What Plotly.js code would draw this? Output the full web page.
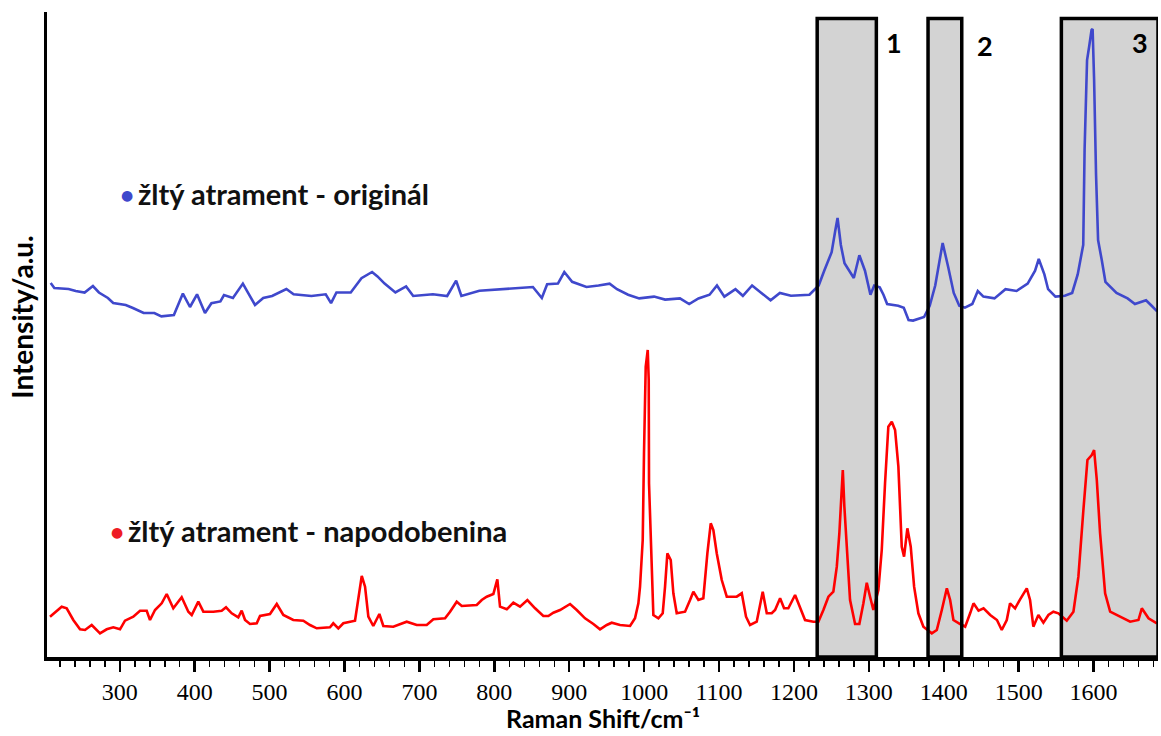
<!DOCTYPE html>
<html>
<head>
<meta charset="utf-8">
<script src="https://cdn.plot.ly/plotly-3.0.1.min.js"></script>
<style>html,body{margin:0;padding:0;background:#fff;}#chart{width:1161px;height:736px;}</style>
</head>
<body>
<div id="chart"></div>
<script>
// Raman shift (cm-1) and intensity (a.u.)
const origShift = [207.7,212.6,231.6,241.1,253,264.1,272.1,284.1,291.2,307.9,317.5,331.8,346.1,355.5,372.2,377,384.2,393.7,403.1,413.7,422.3,434.3,439.1,451,464.3,472.4,480.5,491.5,503.3,522.4,532,555.8,574.9,582,589.2,608.3,622.6,636.8,644,653.5,667.9,682.2,691.7,718,737,749,756,780,813.4,851.5,863.4,870.5,884.9,893.4,903.9,923,939.1,953.9,963.8,978.6,993.4,1013.2,1028,1047.8,1060.1,1072.5,1087.3,1097.2,1107.1,1121.9,1131.8,1144.1,1156.5,1168.8,1181.2,1196,1220.7,1228.2,1233,1240.4,1250.3,1255.3,1258.2,1262.6,1267.5,1279.9,1287.3,1294.8,1302.1,1307.1,1314.5,1319.5,1324.4,1339.2,1346.6,1353,1359,1373.7,1381.2,1388.6,1398.5,1405.9,1413.3,1420.7,1428.2,1438.1,1445.4,1452.9,1467.7,1482.4,1497.2,1512,1521.9,1526.8,1534.3,1539.3,1549.1,1561.5,1571.4,1578.8,1582,1586.2,1588,1591.3,1594,1597.3,1598.7,1600.7,1603.3,1606,1610.8,1615.8,1630.6,1645.4,1655.2,1670,1677.5,1684.9];
const origInt = [374,369,368,366,364.5,371,364.5,359,354,352,349,344,344,340.6,342,350,363.4,350,362.7,344,353.8,355.6,362,359,373.4,362.7,352,359,361,368,362.7,361,362.7,353.8,364.5,364.5,378.8,385,380.6,373.4,364.5,370.6,361,362.7,361,376.3,361,366.3,368,370,359,372.7,373.4,385,375.2,370,371.5,373.4,367.8,362.3,358.6,360.4,357.4,358.6,353,358.6,362.3,371.5,360.4,367.8,361.2,371.5,364.1,356.7,364.1,361.2,362.3,367.8,371.5,386.3,404.8,427,439,412,393.7,379,401.8,386.3,362.3,371.5,369.7,362.3,353,351.2,349.3,337,336.4,340,351.2,371.5,414,390,364.1,351.2,349.3,353,366,360.4,358.6,367.8,366,373.4,386.3,398,382.6,367.8,360.4,361.2,364.1,382.6,397,412.2,507,597,610,627,628,577,482,417,397.4,375.2,364.1,358.6,353,356.7,351.2,345.6];

const fakeShift = [206.8,222.4,229.1,237.9,246.9,253.5,262.5,273.6,282.5,291.3,300.3,306.9,318,327,335.9,340.3,347,355.9,362.6,371.4,382.6,391.5,396,404.8,411.5,424.8,436,441.8,449.4,458.2,462.7,467.2,473.8,482.8,487.2,500.5,509.5,518.3,531.6,545,553.9,562.9,580.6,585,591.7,598.4,614,618.4,623,627.4,631.8,638.4,646.5,651.8,665.1,683,696.4,709.7,718.6,734.2,740.9,749.8,756.5,776.5,783.2,789.8,798.7,804,807.6,816.6,825.4,834.3,844.1,854.4,865.4,872.1,878.8,887.7,901.1,910,921.1,932.2,941.1,950.1,956.7,967.8,981.2,987.8,992.3,994.5,998.1,999.8,1002.1,1004.8,1006.1,1006.5,1008.8,1010.1,1012.3,1019,1024.8,1027.9,1031,1035.5,1039,1043.5,1054.6,1061.3,1065.7,1072.4,1079,1084.4,1088.9,1092.4,1096.9,1103.6,1110.3,1123.6,1130.3,1136,1141.4,1150.3,1158.3,1163.7,1170.3,1174.8,1181.5,1186.8,1192.5,1201.5,1208.1,1214.8,1225.9,1232.6,1239.3,1246,1252.6,1257.2,1260.6,1263.8,1265.2,1267.3,1270.5,1274.9,1281.6,1287.3,1292.7,1297.2,1301.6,1306,1312.7,1317.2,1321.6,1326,1330.6,1335,1339.4,1343.9,1347,1351.4,1355.9,1360.4,1366.1,1372.8,1384,1390.7,1397.4,1404.1,1408.5,1412.9,1421.9,1428.6,1435.2,1439.7,1446.4,1453.1,1462,1471,1477.4,1484.1,1488.5,1495.2,1501.9,1510.8,1515.2,1519.6,1526.3,1533,1539.7,1546.3,1553,1564.2,1573.1,1579.7,1586.4,1591.8,1597.6,1600.7,1604.3,1608.7,1615.4,1622.1,1635.4,1648.8,1659.9,1664.4,1673.3,1684.5];
const fakeInt = [40.3,50.3,48.7,37,27.7,27,32,23.7,27.7,29.7,27.7,36.3,40.3,46.3,46.3,37,47,53.7,63,48.7,59.7,45.3,42,55.3,45.3,45.3,46.3,49.7,43.7,39.7,46.3,37,33,33.7,41,43,53,42,37,36.3,32,28.7,29.7,33.7,28.7,33.7,36.3,60.3,81,70.3,40.3,31,43,31,30.3,35.3,32,32,37.7,38.7,45.3,55.3,51,52,57,60.3,63,77.7,50.3,47.7,54.3,50.3,57,48.7,41,41,44.3,47,53,47,38.7,33,27.7,32,34.3,32,31,38.7,53.7,70.3,117,203.7,290.3,307,277,173.7,123.7,83.7,42,38.7,43.7,70.3,103.7,97,63.7,43.7,45.3,57,65.3,57,58.7,103.7,133.7,127,103.7,77,60.3,60.3,63.7,40.3,32,35.3,65.3,43.7,43.7,47,58.7,48.7,48.7,62,50.3,37,35.3,35.3,47,60.3,65.3,90.3,123.7,177,187,150.3,107,57,33,33,53.7,74.3,60.3,47,67,107,173.7,230.3,235.3,227,190.3,110.3,100.3,128.7,110.3,70.3,43.7,30.3,23.7,27,47,68.7,57,37,33,30.3,43.7,53.7,46.3,48.7,42,37,27,37,53.7,48.7,57.7,68.7,57,30.3,42,34.3,42,45.3,43.7,36.3,45.3,80.3,147,197,202,207,177,123.7,63.7,45.3,40.3,35.3,37,48.7,38.7,33.7];

// Highlighted band regions (cm-1) and their labels
const bandStart = [1231, 1379, 1557];
const bandEnd = [1310, 1424, 1686];
const bandLabels = ['1', '2', '3'];
const bandLabelShift = [1333, 1455, 1662];
const bandLabelInt = [615, 612, 615];

const seriesNames = ['žltý atrament - originál', 'žltý atrament - napodobenina'];
const seriesColors = ['#3f48cc', '#ee1c24'];
const labelShift = [322, 308];
const dotShift = [310, 296];
const labelInt = [464, 127];

const xRange = [202.8, 1686];
const yRange = [0, 645];

const traces = [
  {x: origShift, y: origInt, type: 'scatter', mode: 'lines', name: seriesNames[0],
   line: {color: '#3f48cc', width: 2.6}, showlegend: false, hoverinfo: 'x+y'},
  {x: fakeShift, y: fakeInt, type: 'scatter', mode: 'lines', name: seriesNames[1],
   line: {color: '#ff0000', width: 2.6}, showlegend: false, hoverinfo: 'x+y'}
];

const shapes = [];
for (let i = 0; i < bandStart.length; i++) {
  shapes.push({type: 'rect', xref: 'x', yref: 'paper', x0: bandStart[i], x1: bandEnd[i], y0: 0, y1: 0.99,
    fillcolor: '#d3d3d3', line: {width: 0}, layer: 'below'});
  shapes.push({type: 'rect', xref: 'x', yref: 'paper', x0: bandStart[i], x1: bandEnd[i], y0: 0, y1: 0.99,
    fillcolor: 'rgba(0,0,0,0)', line: {color: '#000', width: 3.5}, layer: 'above'});
}

const annotations = [];
for (let i = 0; i < bandLabels.length; i++) {
  annotations.push({x: bandLabelShift[i], y: bandLabelInt[i], xref: 'x', yref: 'y', text: '<b>' + bandLabels[i] + '</b>',
    showarrow: false, font: {family: 'Lato, sans-serif', size: 27, color: '#000'}});
}
for (let i = 0; i < seriesNames.length; i++) {
  annotations.push({x: labelShift[i], y: labelInt[i], xref: 'x', yref: 'y', xanchor: 'left', yanchor: 'middle',
    text: '<b>' + seriesNames[i] + '</b>', showarrow: false,
    font: {family: 'Lato, sans-serif', size: 29, color: '#111'}});
  annotations.push({x: dotShift[i], y: labelInt[i] - 2, xref: 'x', yref: 'y', xanchor: 'center', yanchor: 'middle',
    text: '●', showarrow: false, font: {family: 'DejaVu Sans, sans-serif', size: 14, color: seriesColors[i]}});
}
// axis titles placed as in the reference
annotations.push({x: -0.022, y: 0.527, xref: 'paper', yref: 'paper', xanchor: 'center', yanchor: 'middle',
  text: '<b>Intensity/a.u.</b>', textangle: -90, showarrow: false,
  font: {family: 'Lato, sans-serif', size: 28, color: '#000'}});
annotations.push({x: 0.5, y: -0.094, xref: 'paper', yref: 'paper', xanchor: 'center', yanchor: 'middle',
  text: '<b>Raman Shift/cm⁻¹</b>', showarrow: false,
  font: {family: 'Lato, sans-serif', size: 25, color: '#000'}});

const layout = {
  width: 1161, height: 736,
  margin: {l: 47, r: 3, t: 12, b: 79},
  paper_bgcolor: '#fff', plot_bgcolor: '#fff',
  showlegend: false,
  xaxis: {
    range: xRange, showline: true, linewidth: 3.5, linecolor: '#000', mirror: false,
    ticks: 'outside', ticklen: 11, tickwidth: 2.5, tickcolor: '#000', dtick: 100, tick0: 0,
    minor: {dtick: 20, tick0: 0, ticks: 'outside', ticklen: 6, tickwidth: 1.5, tickcolor: '#000'},
    showgrid: false, zeroline: false,
    tickfont: {family: 'Liberation Serif, serif', size: 24, color: '#000'}
  },
  yaxis: {
    range: yRange, showline: true, linewidth: 3.5, linecolor: '#000',
    ticks: '', showticklabels: false, showgrid: false, zeroline: false
  },
  shapes: shapes,
  annotations: annotations
};

Plotly.newPlot('chart', traces, layout, {displayModeBar: false, staticPlot: true});
</script>
</body>
</html>
